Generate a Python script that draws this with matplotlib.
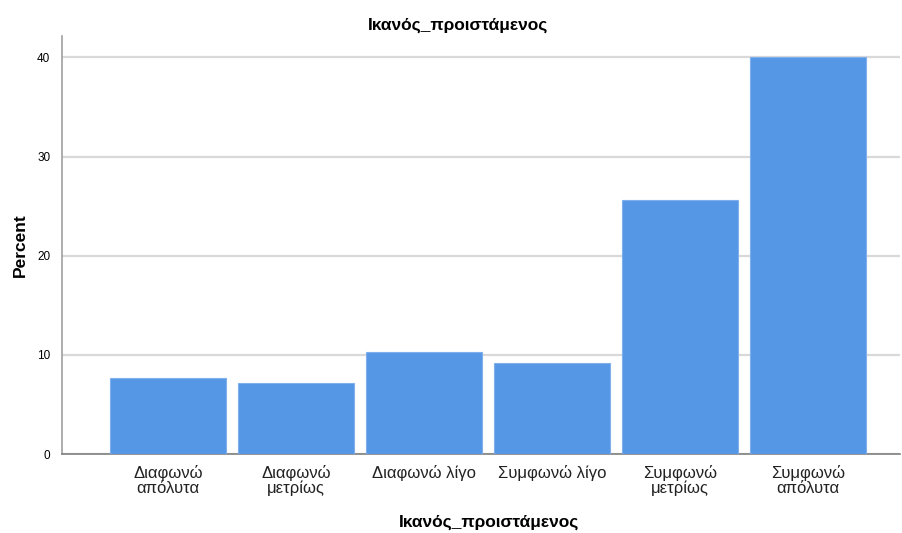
import matplotlib
matplotlib.use("Agg")
import matplotlib.pyplot as plt

categories = ["Διαφωνώ\nαπόλυτα", "Διαφωνώ\nμετρίως", "Διαφωνώ λίγο",
              "Συμφωνώ λίγο", "Συμφωνώ\nμετρίως", "Συμφωνώ\nαπόλυτα"]
percent = [7.7, 7.2, 10.3, 9.2, 25.6, 40.0]
yticks = [0, 10, 20, 30, 40]
title = "Ικανός_προιστάμενος"

plt.rcParams['font.family'] = ['Liberation Sans', 'DejaVu Sans']

fig = plt.figure(figsize=(9.02, 5.33), dpi=100)
ax = fig.add_axes([0.0682, 0.148, 0.93, 0.7845])

x = list(range(len(categories)))
ax.bar(x, percent, width=0.906, color="#5596e5", edgecolor="#7fb0ec",
       linewidth=0.8, zorder=3)

ax.set_xlim(-0.832, 5.719)
ax.set_ylim(0, 42.15)
ax.set_yticks(yticks)
ax.set_yticklabels([str(v) for v in yticks], fontsize=8.5)
ax.set_xticks(x)
ax.set_xticklabels(categories, fontsize=12, color="#222222", linespacing=0.95)
ax.tick_params(axis='x', length=0, pad=8)
ax.tick_params(axis='y', length=0, pad=8)

ax.yaxis.grid(True, color="#d9d9d9", linewidth=1.6, zorder=0)
ax.set_axisbelow(True)
for s in ["top", "right"]:
    ax.spines[s].set_visible(False)
ax.spines["left"].set_color("#a0a0a0")
ax.spines["left"].set_linewidth(1.2)
ax.spines["bottom"].set_color("#808080")
ax.spines["bottom"].set_linewidth(1.2)

ax.set_ylabel("Percent", fontsize=12.5, fontweight="bold", labelpad=7)
fig.text(489 / 902, 1 - 522 / 533, title, ha="center", va="center",
         fontsize=12.5, fontweight="bold")
fig.text(0.508, 0.953, title, ha="center", va="center", fontsize=12.5, fontweight="bold")

fig.savefig("out.png", dpi=100, facecolor="white")
